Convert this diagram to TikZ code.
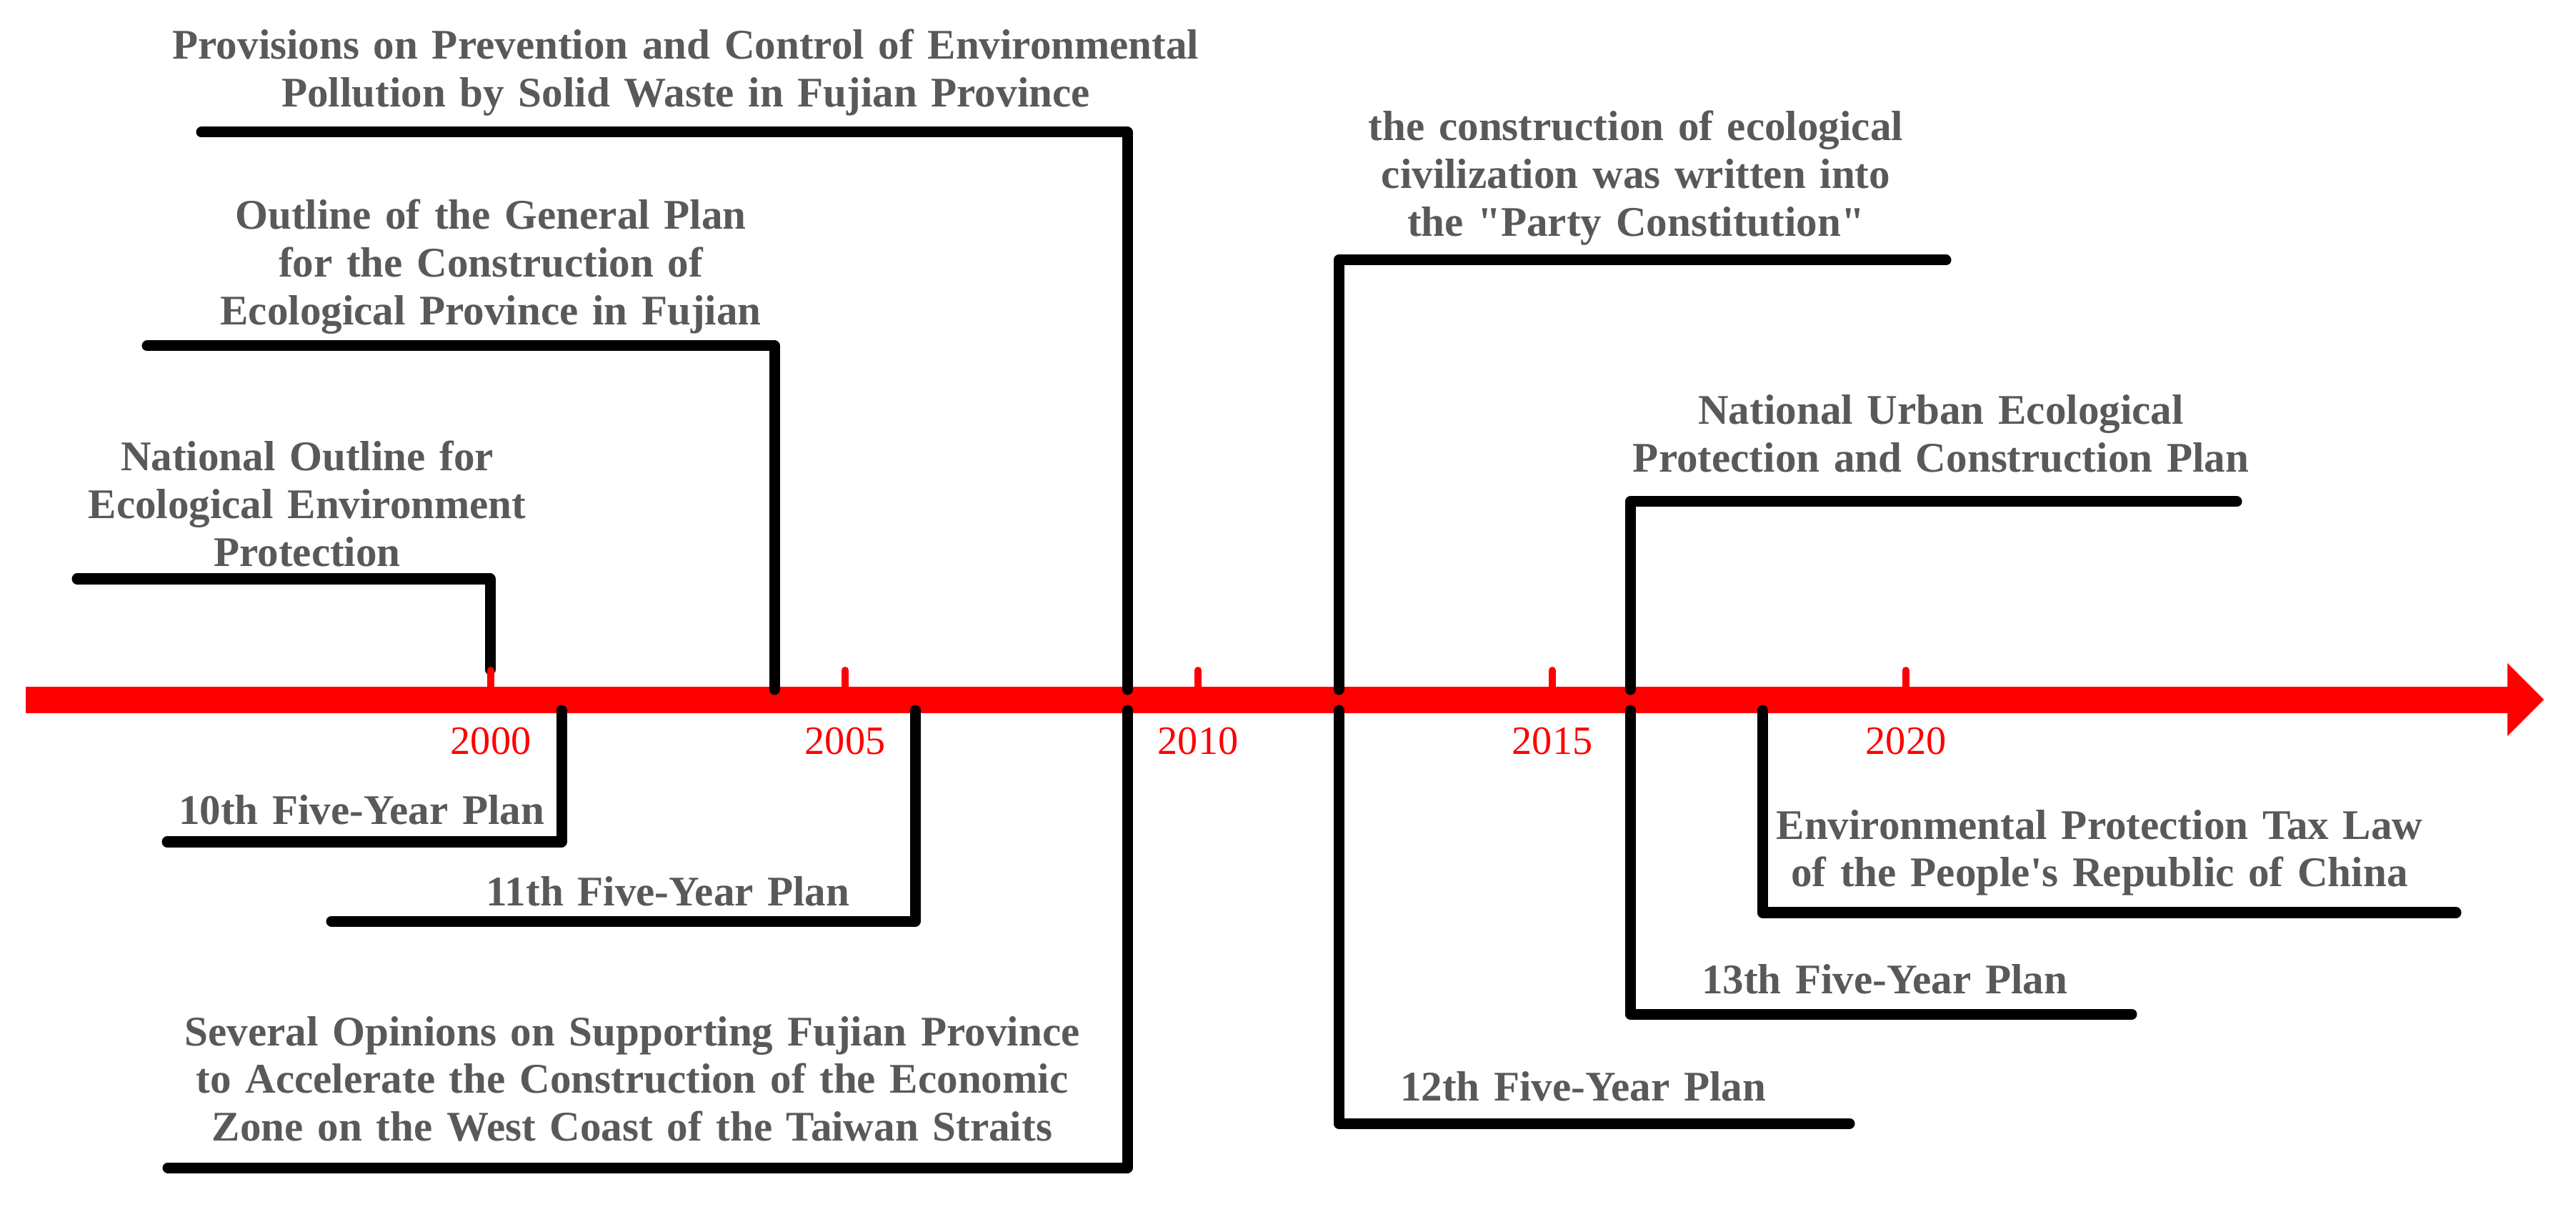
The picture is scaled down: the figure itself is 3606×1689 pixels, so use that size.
\documentclass[tikz,border=0pt]{standalone}
\usepackage{fontspec}
\setmainfont{Liberation Serif}
\definecolor{txtgray}{HTML}{595959}
\definecolor{axred}{HTML}{FF0000}
\begin{document}
\begin{tikzpicture}[x=0.01cm,y=-0.01cm,
  lbl/.style={text=txtgray, font=\bfseries\fontsize{16.8}{19.05}\selectfont, text width=16cm, align=center, anchor=base, inner sep=0pt},
  yr/.style={text=axred, font=\fontsize{16}{18}\selectfont, anchor=base, inner sep=0pt},
  bracket/.style={line width=0.15cm, line cap=round, line join=round, black},
  yeartick/.style={line width=0.1cm, axred, line cap=round}]
\useasboundingbox (0,0) rectangle (3606,1689);

% axis attach points
\coordinate (a1) at (686,937);
\coordinate (a2) at (1084,965);
\coordinate (a3) at (1578,965);
\coordinate (a4) at (1874,965);
\coordinate (a5) at (2282,965);
\coordinate (b1) at (786,994);
\coordinate (b2) at (1281,994);
\coordinate (b3) at (1578,994);
\coordinate (b4) at (1874,994);
\coordinate (b5) at (2282,994);
\coordinate (b6) at (2467,994);

% labels
\node[lbl] (natout) at (430,659) {National Outline for\\Ecological Environment\\Protection};
\node[lbl] (genplan) at (687,321) {Outline of the General Plan\\for the Construction of\\Ecological Province in Fujian};
\node[lbl] (prov) at (960,83) {Provisions on Prevention and Control of Environmental\\Pollution by Solid Waste in Fujian Province};
\node[lbl] (p10) at (506,1153) {10th Five-Year Plan};
\node[lbl] (p11) at (935,1267) {11th Five-Year Plan};
\node[lbl] (sev) at (885,1463) {Several Opinions on Supporting Fujian Province\\to Accelerate the Construction of the Economic\\Zone on the West Coast of the Taiwan Straits};
\node[lbl] (party) at (2290,197) {the construction of ecological\\civilization was written into\\the \textquotedbl Party Constitution\textquotedbl};
\node[lbl] (p12) at (2216,1540) {12th Five-Year Plan};
\node[lbl] (urban) at (2717,594) {National Urban Ecological\\Protection and Construction Plan};
\node[lbl] (tax) at (2939,1174) {Environmental Protection Tax Law\\of the People\textquotesingle s Republic of China};
\node[lbl] (p13) at (2638,1390) {13th Five-Year Plan};

% axis
\fill[axred] (36,961) rectangle (3512,998);
\fill[axred] (3510,928) -- (3561,979) -- (3510,1030) -- cycle;

% brackets
\draw[bracket] (108,810) -- (686,810) -- (a1);
\draw[bracket] (206,484) -- (1084,484) -- (a2);
\draw[bracket] (282,185) -- (1578,185) -- (a3);
\draw[bracket] (2724,364) -- (1874,364) -- (a4);
\draw[bracket] (3131,702) -- (2282,702) -- (a5);
\draw[bracket] (234,1178) -- (786,1178) -- (b1);
\draw[bracket] (464,1289) -- (1281,1289) -- (b2);
\draw[bracket] (235,1634) -- (1578,1634) -- (b3);
\draw[bracket] (2589,1572) -- (1874,1572) -- (b4);
\draw[bracket] (2984,1419) -- (2282,1419) -- (b5);
\draw[bracket] (3438,1277) -- (2467,1277) -- (b6);

% ticks and years
\foreach \yy/\xx in {2000/687,2005/1183,2010/1677,2015/2173,2020/2668}{
  \draw[yeartick] (\xx,966) -- (\xx,938);
  \node[yr] (y\yy) at (\xx,1055) {\yy};
}
\end{tikzpicture}
\end{document}
